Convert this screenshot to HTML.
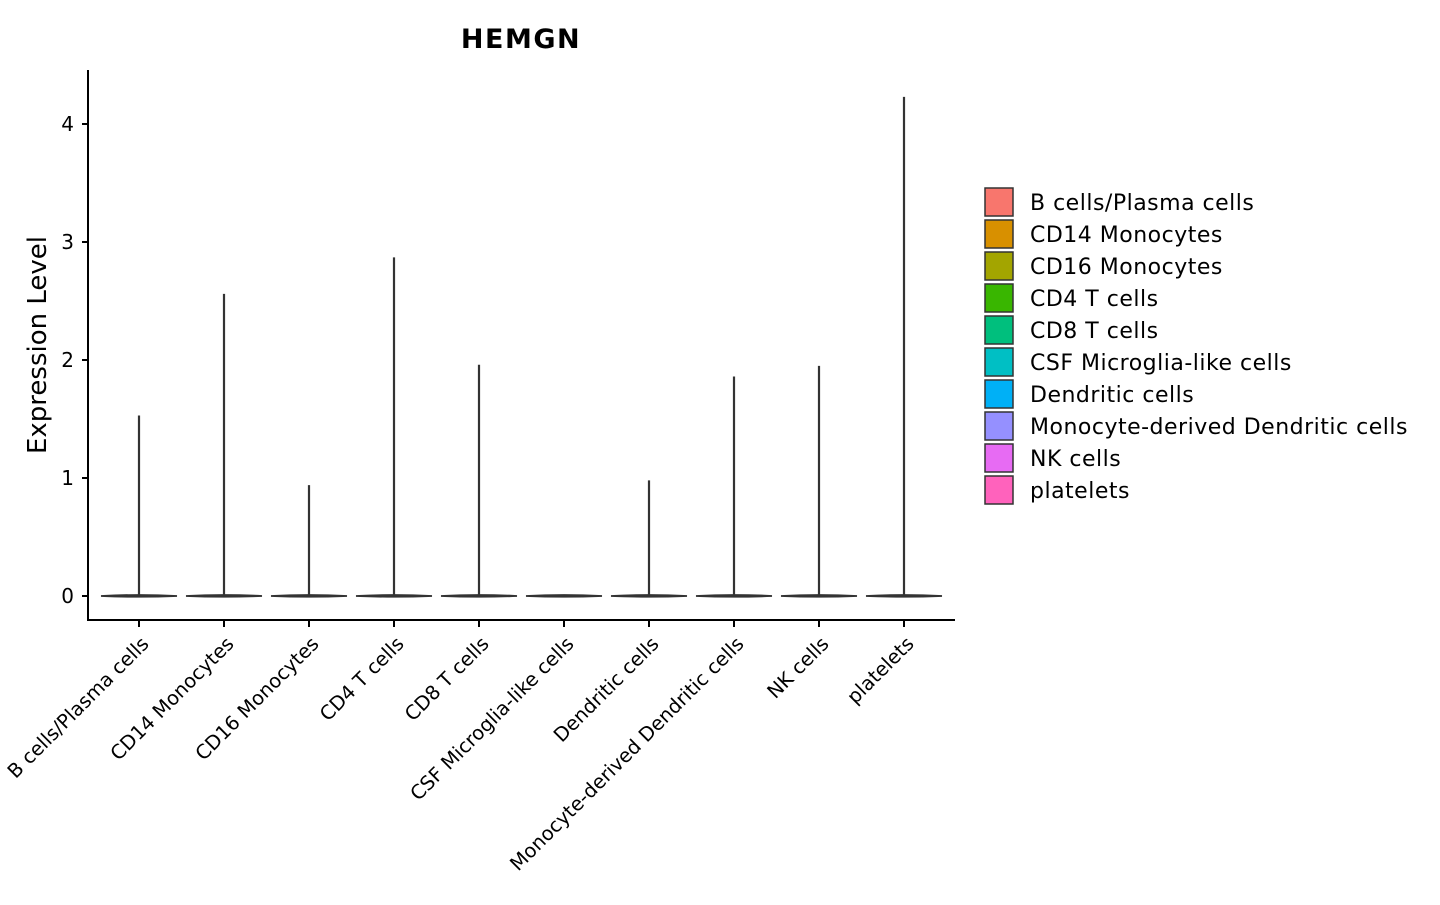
<!DOCTYPE html>
<html><head><meta charset="utf-8"><style>
body{margin:0;background:#fff;}
svg text{font-family:"DejaVu Sans","Liberation Sans",sans-serif;fill:#000;}
</style></head><body>
<svg id="chart" width="1440" height="900">
<text x="521" y="48" text-anchor="middle" font-size="27" font-weight="bold" letter-spacing="1.5">HEMGN</text>
<text transform="translate(46,345) rotate(-90)" text-anchor="middle" font-size="26">Expression Level</text>
<line x1="88" y1="70" x2="88" y2="621" stroke="#000" stroke-width="2"/>
<line x1="87" y1="620" x2="955" y2="620" stroke="#000" stroke-width="2"/>
<g id="plot"></g>
<g id="legend"></g>
</svg>
<script>
const categories=["B cells/Plasma cells","CD14 Monocytes","CD16 Monocytes","CD4 T cells","CD8 T cells","CSF Microglia-like cells","Dendritic cells","Monocyte-derived Dendritic cells","NK cells","platelets"];
const maxValues=[1.53,2.56,0.94,2.87,1.96,0,0.98,1.86,1.95,4.23];
const colors=["#F8766D","#D89000","#A3A500","#39B600","#00BF7D","#00BFC4","#00B0F6","#9590FF","#E76BF3","#FF62BC"];
const yTicks=[0,1,2,3,4];
const NS="http://www.w3.org/2000/svg";
const y=v=>596-v*118;
const x=i=>139+i*85;
const plot=document.getElementById('plot');
function mk(tag,attrs,parent){const e=document.createElementNS(NS,tag);for(const k in attrs)e.setAttribute(k,attrs[k]);parent.appendChild(e);return e;}
yTicks.forEach(t=>{
  const l=mk('line',{x1:82,x2:88,y1:y(t),y2:y(t),stroke:'#000','stroke-width':2},plot);
  
  
  const tx=mk('text',{x:74,y:y(t)+7,'text-anchor':'end','font-size':20,fill:'#000'},plot);
  tx.textContent=t;
  
  
});
categories.forEach((c,i)=>{
  const cx=x(i);
  const g=mk('g',{},plot);
  
  
  mk('path',{d:`M${cx-38},${y(0)} Q${cx},${y(0)-2} ${cx+38},${y(0)} Q${cx},${y(0)+1.5} ${cx-38},${y(0)} Z`,fill:colors[i],stroke:'#333','stroke-width':1.8},g);
  if(maxValues[i]>0) mk('line',{x1:cx,x2:cx,y1:y(0),y2:y(maxValues[i]),stroke:'#333','stroke-width':2.2},g);
  const t=mk('line',{x1:cx,x2:cx,y1:620,y2:627,stroke:'#000','stroke-width':2},plot);
  
  
  const lb=mk('text',{transform:`translate(${cx+11},${645}) rotate(-45)`,'text-anchor':'end','font-size':19.5},plot);
  lb.textContent=c;
  
  
});
const leg=document.getElementById('legend');
categories.forEach((c,i)=>{
  const ly=188+i*32;
  const g=mk('g',{},leg);
  
  
  mk('rect',{x:985,y:ly,width:28,height:28,fill:colors[i],stroke:'#333','stroke-width':1.5},g);
  const t=mk('text',{x:1030,y:ly+22,'font-size':22,'letter-spacing':0.5},g);
  t.textContent=c;
});
</script>
</body></html>
